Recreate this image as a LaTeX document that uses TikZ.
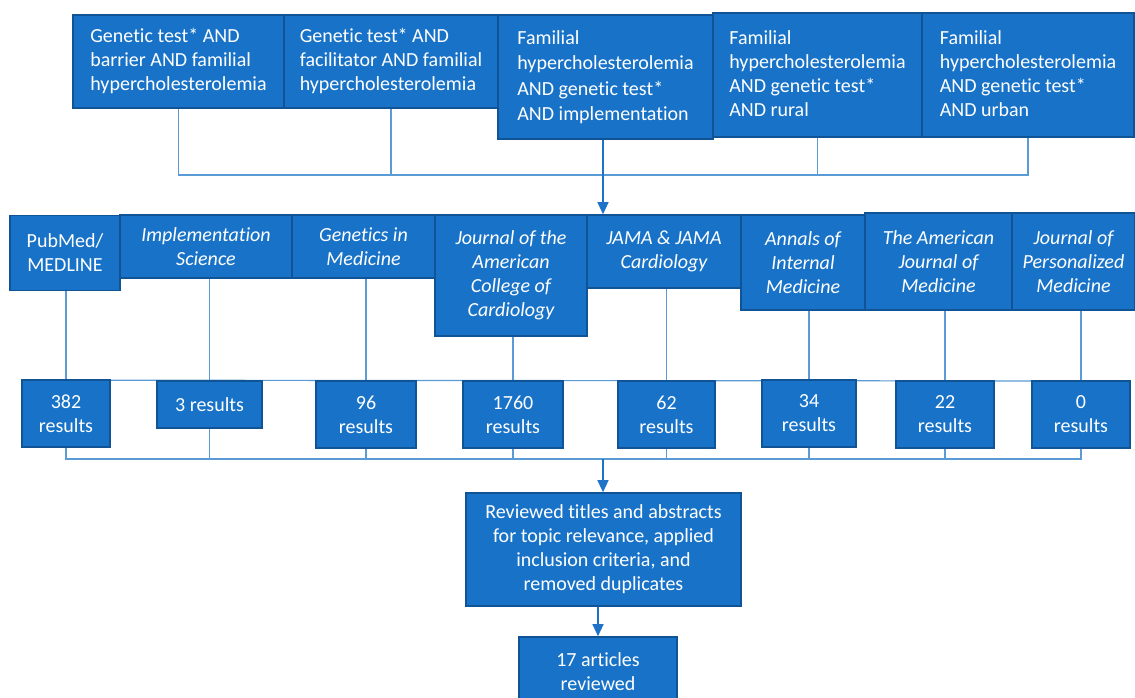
\documentclass[tikz,border=0pt]{standalone}
\usepackage{fontspec}
\setmainfont{Carlito}[RawFeature={-liga;-clig}]
\usetikzlibrary{arrows.meta,backgrounds}
\definecolor{boxfill}{RGB}{24,115,200}
\definecolor{boxline}{RGB}{17,84,150}
\definecolor{connline}{RGB}{91,155,213}
\definecolor{arrcol}{RGB}{30,115,200}
\tikzset{
  box/.style={draw=boxline, line width=1.6pt, fill=boxfill, text=white, inner sep=0pt,
    font=\fontsize{20}{24}\selectfont},
  topbox/.style={box, align=left},
  jbox/.style={box, align=center, font=\fontsize{20}{24}\selectfont\itshape},
  rbox/.style={box, align=center},
  conn/.style={draw=connline, line width=1.2pt},
  arr/.style={conn, draw=arrcol, -{Triangle[width=11pt,length=12pt]}},
}
\begin{document}
\begin{tikzpicture}[x=1pt,y=-1pt]
\useasboundingbox (0,0) rectangle (1135,697);
% top row
\node[topbox, minimum width=211, minimum height=93] (t1) at (178.5,61.5) {Genetic test* AND\\barrier AND familial\\hypercholesterolemia};
\node[topbox, minimum width=214, minimum height=93] (t2) at (391,61.5) {Genetic test* AND\\facilitator AND familial\\hypercholesterolemia};
\node[topbox, minimum width=215, minimum height=124, font=\fontsize{20}{25.5}\selectfont] (t3) at (605.5,77) {Familial\\hypercholesterolemia\\AND genetic test*\\AND implementation};
\node[topbox, minimum width=209, minimum height=124] (t4) at (817.5,75) {Familial\\hypercholesterolemia\\AND genetic test*\\AND rural\phantom{p}};
\node[topbox, minimum width=212, minimum height=124] (t5) at (1028,75) {Familial\\hypercholesterolemia\\AND genetic test*\\AND urban\phantom{p}};
% journals row
\node[box, align=center, minimum width=110, minimum height=75] (j1) at (65,253) {PubMed/\\MEDLINE};
\node[jbox, minimum width=172, minimum height=63] (j2) at (206,246.5) {Implementation\\Science};
\node[jbox, minimum width=143, minimum height=63] (j3) at (363.5,246.5) {Genetics in\\Medicine};
\node[jbox, minimum width=152, minimum height=121] (j4) at (511,275.5) {Journal of the\\American\\College of\\Cardiology};
\node[jbox, minimum width=154, minimum height=73] (j5) at (664,251.5) {JAMA \& JAMA\\Cardiology};
\node[jbox, minimum width=124, minimum height=95] (j6) at (803,262.5) {Annals of\\Internal\\Medicine};
\node[jbox, minimum width=147, minimum height=97] (j7) at (938.5,261.5) {The American\\Journal of\\Medicine};
\node[jbox, minimum width=123, minimum height=97] (j8) at (1073.5,261.5) {Journal of\\Personalized\\Medicine};
% results row
\node[rbox, minimum width=88, minimum height=67] (r1) at (66,413.5) {382\\results};
\node[rbox, minimum width=105, minimum height=47] (r2) at (209.5,404.5) {3 results};
\node[rbox, minimum width=100, minimum height=67] (r3) at (366,414.5) {96\\results};
\node[rbox, minimum width=100, minimum height=67] (r4) at (513,414.5) {1760\\results};
\node[rbox, minimum width=97, minimum height=67] (r5) at (666.5,414.5) {62\\results};
\node[rbox, minimum width=94, minimum height=67] (r6) at (809,413.5) {34\\results};
\node[rbox, minimum width=98, minimum height=67] (r7) at (945,414.5) {22\\results};
\node[rbox, minimum width=98, minimum height=67] (r8) at (1081,414.5) {0\\results};
% bottom
\node[rbox, minimum width=275, minimum height=113] (rev) at (603.5,549.5) {Reviewed titles and abstracts\\for topic relevance, applied\\inclusion criteria, and\\removed duplicates};
\node[rbox, minimum width=158, minimum height=70] (art) at (598,672) {17 articles\\reviewed};
\coordinate (busA) at (603,175);
\coordinate (busB) at (603,459);
\begin{scope}[on background layer]
\fill[white] (0,0) rectangle (1135,697);
\draw[conn] (t1.south) |- (busA);
\draw[conn] (t2.south) -- (t2.south |- busA);
\draw[conn] (t5.south) |- (busA);
\draw[conn] (t4.south) -- (t4.south |- busA);
\draw[arr] (t3.south -| busA) -- (busA |- j5.north);
\draw[conn] (r1.north |- j1.south) -- (r1.north);
\draw[conn] (r2.north |- j2.south) -- (r2.north);
\draw[conn] (r3.north |- j3.south) -- (r3.north);
\draw[conn] (r4.north |- j4.south) -- (r4.north);
\draw[conn] (r5.north |- j5.south) -- (r5.north);
\draw[conn] (r6.north |- j6.south) -- (r6.north);
\draw[conn] (r7.north |- j7.south) -- (r7.north);
\draw[conn] (r8.north |- j8.south) -- (r8.north);
\draw[conn] (r1.north) ++(0,1) -- (r8.north |- {(0,381)});
\draw[conn] (r1.south) |- (busB);
\draw[conn] (r8.south) |- (busB);
\draw[conn] (r2.south) -- (r2.south |- busB);
\draw[conn] (r3.south) -- (r3.south |- busB);
\draw[conn] (r4.south) -- (r4.south |- busB);
\draw[conn] (r5.south) -- (r5.south |- busB);
\draw[conn] (r6.south) -- (r6.south |- busB);
\draw[conn] (r7.south) -- (r7.south |- busB);
\draw[arr] (busB) -- (busB |- rev.north);
\draw[arr] (rev.south -| art.north) -- (art.north);
\end{scope}
\end{tikzpicture}
\end{document}
